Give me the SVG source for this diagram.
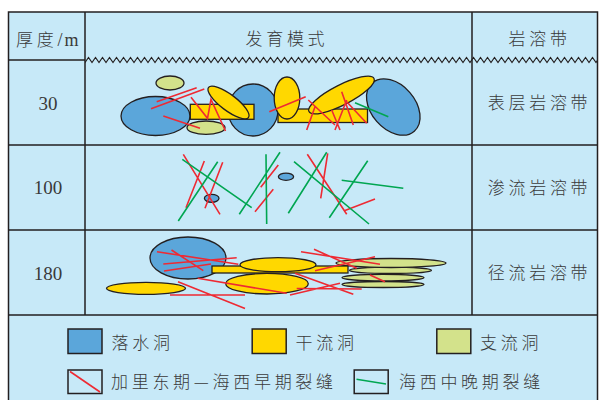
<svg xmlns="http://www.w3.org/2000/svg" width="599" height="400" viewBox="0 0 599 400">
  <defs>
    <pattern id="zig" x="85" y="56" width="7" height="8" patternUnits="userSpaceOnUse">
      <path d="M-3.5,1.5 L0,6.5 L3.5,1.5 L7,6.5 L10.5,1.5" fill="none" stroke="#231f20" stroke-width="1.1"/>
    </pattern>
  </defs>
  <style>
    .grid { stroke: #231f20; stroke-width: 1.5; fill: none; }
    .cjk { font-family: "Noto Sans CJK SC", "Noto Sans", sans-serif; font-size: 17px; letter-spacing: 3.7px; fill: #3a3a3a; font-weight: 300; }
    .num { font-family: "Liberation Serif", "Noto Sans CJK SC", serif; font-size: 19px; fill: #3a3a3a; text-anchor: middle; }
    .head { font-family: "Noto Sans CJK SC", sans-serif; font-size: 17px; letter-spacing: 3.7px; fill: #3a3a3a; font-weight: 300; }
    .latin { font-family: "Liberation Serif", serif; font-size: 18px; letter-spacing: 2px; font-weight: 400; }
    .sink { fill: #5ba6da; stroke: #231f20; stroke-width: 1.3; }
    .main { fill: #ffd800; stroke: #231f20; stroke-width: 1.3; }
    .branch { fill: #d3e28b; stroke: #231f20; stroke-width: 1.3; }
    .red { stroke: #ee2a33; stroke-width: 1.6; fill: none; }
    .green { stroke: #00a651; stroke-width: 1.6; fill: none; }
    .box { stroke: #231f20; stroke-width: 1.5; }
  </style>

  <!-- table background -->
  <rect x="8.5" y="12" width="589" height="400" fill="#c7e9f8"/>

  <!-- table grid -->
  <g id="grid">
    <path class="grid" d="M8.5,410 V12 H597.5 V410"/>
    <path class="grid" d="M8.5,60 H85"/>
    <path class="grid" d="M85,12 V315 M472,12 V315"/>
    <path class="grid" d="M8.5,145 H597.5 M8.5,230 H597.5 M8.5,315 H597.5"/>
    <rect x="85" y="56" width="512.5" height="8" fill="url(#zig)"/>
  </g>

  <!-- headers -->
  <g id="headers">
    <text class="head" x="16" y="45.5">厚度<tspan class="latin">/m</tspan></text>
    <text class="cjk" x="245.5" y="45">发育模式</text>
    <text class="cjk" x="508.5" y="45">岩溶带</text>
  </g>

  <!-- thickness column -->
  <g id="thickness">
    <text class="num" x="48" y="109.5">30</text>
    <text class="num" x="48" y="194">100</text>
    <text class="num" x="48" y="280">180</text>
  </g>

  <!-- karst zone column -->
  <g id="zones">
    <text class="cjk" x="487.8" y="109">表层岩溶带</text>
    <text class="cjk" x="487.8" y="194">渗流岩溶带</text>
    <text class="cjk" x="487.8" y="279">径流岩溶带</text>
  </g>

  <!-- epikarst zone caves -->
  <g id="caves-30">
    <ellipse class="sink" cx="155.5" cy="116" rx="34.5" ry="19.5"/>
    <ellipse class="branch" cx="206" cy="127.7" rx="19" ry="6.7"/>
    <ellipse class="sink" cx="253" cy="110" rx="25" ry="26"/>
    <rect class="main" x="190.3" y="104.3" width="63.7" height="15"/>
    <ellipse class="main" cx="228.5" cy="102.5" rx="25" ry="8" transform="rotate(37 228.5 102.5)"/>
    <ellipse class="branch" cx="170" cy="83" rx="14" ry="7"/>
    <ellipse class="sink" cx="393.3" cy="107" rx="32" ry="22" transform="rotate(49 393.3 107)"/>
    <rect class="main" x="278" y="109" width="89.5" height="13.5"/>
    <ellipse class="main" cx="287" cy="98" rx="12.8" ry="21"/>
    <ellipse class="main" cx="341.5" cy="95" rx="36.5" ry="10" transform="rotate(-27 341.5 95)"/>
  </g>

  <!-- vadose zone caves -->
  <g id="caves-100">
    <ellipse class="sink" cx="211.7" cy="198.3" rx="7.3" ry="4"/>
    <ellipse class="sink" cx="286" cy="176.7" rx="7.6" ry="3.6"/>
  </g>

  <!-- phreatic zone caves -->
  <g id="caves-180">
    <ellipse class="sink" cx="188" cy="258" rx="38" ry="21"/>
    <ellipse class="main" cx="146" cy="288.3" rx="39.5" ry="6"/>
    <ellipse class="branch" cx="383" cy="284.5" rx="41" ry="3"/>
    <ellipse class="branch" cx="383" cy="277.6" rx="41" ry="3.3"/>
    <ellipse class="branch" cx="390.5" cy="270.3" rx="41" ry="3.2"/>
    <ellipse class="branch" cx="391" cy="263" rx="55" ry="4.5"/>
    <rect class="main" x="212" y="266" width="136" height="7"/>
    <ellipse class="main" cx="278" cy="264.7" rx="38" ry="7"/>
    <ellipse class="main" cx="267" cy="283.7" rx="41.3" ry="10.3"/>
  </g>

  <!-- fractures -->
  <g id="fractures">
    <!-- Caledonian to early Hercynian -->
    <g class="red">
      <path d="M156.7,101.7 L196.7,87.7 M151,108.7 L204.3,89 M163.3,116 L200,128.3"/>
      <path d="M191,97.3 L207.5,118.3 L211,99.3 L225.5,131"/>
      <path d="M269.3,111.7 L305.7,96.7"/>
      <path d="M308.3,100 L335,125 M306.7,130 L315,106.7 M331.7,110 L340,130 M335,130 L346.7,100 M341.7,91.7 L353.3,125 M346.7,101.7 L366.7,123.3"/>

      <path d="M183.3,154.3 L220,214.3 M186,207.7 L204.3,161 M205,208.3 L222.7,162.3"/>
      <path d="M260.7,187.3 L278.3,165 M255,211.7 L273.3,189.3"/>
      <path d="M307.3,154.3 L346.7,214.3 M320.7,198.3 L327.7,153.3 M345,210.5 L375,199"/>

      <path d="M157,251.7 L238.3,264.3 M171.5,250 L203.3,270.7 M163.3,264 L236.7,257.7 M164,271 L211,264"/>
      <path d="M197.7,278.3 L286.7,293.3 M178,281.7 L245,308.5 M170,295 L245,295"/>
      <path d="M301,251.7 L380,264.3 M314,249.3 L356.7,268.3 M315,270.7 L375,256.7 M370,275 L385,281.7"/>
      <path d="M295,273.3 L353.3,294.3 M296.7,288.5 L361.7,289 M290,295 L340,283.3"/>
    </g>
    <!-- middle to late Hercynian -->
    <g class="green">
      <path d="M355,102.7 L388.3,116.7"/>
      <path d="M182.3,159.3 L251.7,207.7 M178.3,221 L217.7,161.7 M239.3,214.3 L280,152.3 M266,154.3 L266.7,224"/>
      <path d="M288.3,213.3 L326.7,152.3 M294,161.7 L369,224 M329.3,217.7 L367.7,160.7 M341.7,180.3 L403.3,188.3"/>
    </g>
  </g>

  <!-- legend -->
  <g id="legend">
    <g id="legend-sink">
      <rect class="box sink" x="68" y="329" width="34" height="24.5"/>
      <text class="cjk" x="111.5" y="348.5">落水洞</text>
    </g>
    <g id="legend-main">
      <rect class="box main" x="252.2" y="329" width="34" height="24.5"/>
      <text class="cjk" x="295.5" y="348.5">干流洞</text>
    </g>
    <g id="legend-branch">
      <rect class="box branch" x="436.8" y="329" width="34" height="24.5"/>
      <text class="cjk" x="480" y="348.5">支流洞</text>
    </g>
    <g id="legend-early">
      <rect class="box" x="68" y="370" width="34" height="23.5" fill="none"/>
      <path class="red" d="M70,371.5 L100,392"/>
      <text class="cjk" x="111" y="388.3">加里东期—海西早期裂缝</text>
    </g>
    <g id="legend-late">
      <rect class="box" x="354.2" y="370" width="34" height="23.5" fill="none"/>
      <path class="green" d="M356.5,379.3 L386,384"/>
      <text class="cjk" x="399" y="388.3">海西中晚期裂缝</text>
    </g>
  </g>
</svg>
